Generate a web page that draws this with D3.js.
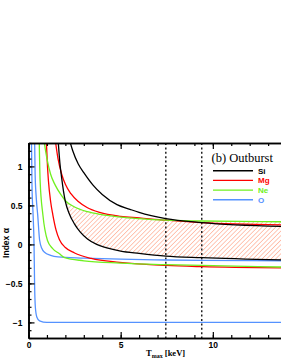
<!DOCTYPE html>
<html lang="en">
<head>
<meta charset="UTF-8">
<title>Outburst</title>
<script src="https://cdn.jsdelivr.net/npm/d3@7"></script>
<style>
  html, body { margin: 0; background: #fff; }
  svg { display: block; }
  .tick text { font: bold 8.5px 'Liberation Sans', Arial, sans-serif; fill: #000; }
</style>
</head>
<body>
<script>
  // canvas
  const width = 281
  const height = 363

  // curve samples: [Tmax keV, alpha]
  const siUpper = [[2.2, 1.36], [2.4, 1.2], [2.7, 1.03], [3.0, 0.92], [3.5, 0.76], [4.0, 0.64], [4.8, 0.51], [5.5, 0.45], [6.0, 0.41], [7.45, 0.33], [9.4, 0.28], [13.8, 0.23]]
  const siLower = [[1.6, 1.36], [1.7, 1.05], [1.8, 0.85], [1.9, 0.68], [2.0, 0.55], [2.2, 0.4], [2.5, 0.26], [2.8, 0.16], [3.2, 0.07], [3.7, 0.0], [4.2, -0.04], [5.0, -0.085], [6.0, -0.115], [7.45, -0.15], [9.4, -0.17], [13.8, -0.2]]
  const mgUpper = [[1.44, 1.36], [1.6, 1.1], [1.8, 0.9], [2.0, 0.77], [2.3, 0.65], [2.7, 0.55], [3.2, 0.47], [3.86, 0.41], [5.0, 0.36], [6.0, 0.34], [7.45, 0.31], [9.4, 0.28], [13.8, 0.25]]
  const mgLower = [[0.96, 1.36], [1.03, 1.0], [1.08, 0.82], [1.2, 0.55], [1.32, 0.38], [1.5, 0.18], [1.68, 0.06], [2.0, -0.04], [2.5, -0.11], [3.4, -0.18], [4.95, -0.23], [7.45, -0.27], [9.4, -0.285], [13.8, -0.3]]
  const neUpper = [[0.82, 1.36], [1.0, 1.1], [1.2, 0.9], [1.45, 0.76], [1.75, 0.64], [2.0, 0.56], [2.5, 0.48], [3.2, 0.42], [3.9, 0.385], [5.0, 0.35], [6.0, 0.33], [7.45, 0.31], [9.4, 0.3], [13.8, 0.29]]
  const neLower = [[0.58, 1.36], [0.63, 0.82], [0.78, 0.38], [1.03, 0.05], [1.3, -0.05], [1.68, -0.12], [1.96, -0.17], [3.0, -0.21], [4.95, -0.24], [7.45, -0.26], [9.4, -0.27], [13.8, -0.29]]
  const oUpper = [[0.33, 1.36], [0.36, 0.9], [0.42, 0.6], [0.5, 0.375], [0.6, 0.06], [0.72, -0.05], [0.87, -0.1], [1.2, -0.14], [1.6, -0.16], [3.0, -0.175], [5.0, -0.19], [7.45, -0.2], [9.4, -0.205], [13.8, -0.21]]
  const oLower = [[0.16, 1.36], [0.19, 0.75], [0.25, 0.375], [0.3, 0.0], [0.33, -0.5], [0.37, -0.8], [0.45, -0.93], [0.6, -0.98], [1.0, -1.0], [13.8, -1.0]]

  // legend
  const elements = ['Si', 'Mg', 'Ne', 'O']
  const colors = ['#000000', '#ff0000', '#70f020', '#5592ff']

  // dotted Tmax markers
  const markers = [7.45, 9.4]

  // tick values
  const xMajor = [0, 5, 10]
  const yMajor = [-1, -0.5, 0, 0.5, 1]

  const plot = { left: 28.5, top: 143, bottom: 338, right: 305 }

  const svg = d3.select('body').append('svg')
    .attr('width', width)
    .attr('height', height)

  const x = d3.scaleLinear().domain([0, 15]).range([plot.left, plot.right])
  const y = d3.scaleLinear().domain([-1.2, 1.3]).range([plot.bottom, plot.top])

  const defs = svg.append('defs')
  defs.append('clipPath').attr('id', 'clip')
    .append('rect')
    .attr('x', plot.left).attr('y', plot.top)
    .attr('width', plot.right - plot.left).attr('height', plot.bottom - plot.top)

  // hatch pattern
  const pat = defs.append('pattern')
    .attr('id', 'hatch')
    .attr('patternUnits', 'userSpaceOnUse')
    .attr('width', 3.2).attr('height', 3.2)
    .attr('patternTransform', 'rotate(45)')
  pat.append('line')
    .attr('x1', 0).attr('y1', 0).attr('x2', 0).attr('y2', 3.2)
    .attr('stroke', '#ff9a7c').attr('stroke-width', 1.1)

  const line = d3.line()
    .x(d => x(d[0]))
    .y(d => y(d[1]))
    .curve(d3.curveMonotoneX)

  const g = svg.append('g').attr('clip-path', 'url(#clip)')

  // hatched region between Ne upper and Si lower
  const hatchTop = neUpper.filter(d => d[0] >= 2.0)
  const hatchBot = siLower.filter(d => d[0] >= 2.0).reverse()
  g.append('path')
    .attr('d', line(hatchTop) + line(hatchBot).replace(/^M/, 'L') + 'Z')
    .attr('fill', 'url(#hatch)')

  // markers
  g.selectAll('.marker')
    .data(markers)
    .enter()
    .append('line')
    .attr('class', 'marker')
    .attr('x1', d => x(d)).attr('x2', d => x(d))
    .attr('y1', plot.top).attr('y2', plot.bottom)
    .attr('stroke', '#000')
    .attr('stroke-width', 1.3)
    .attr('stroke-dasharray', '2,2.4')

  // curves
  const curves = [
    [oUpper, 3], [oLower, 3],
    [mgUpper, 1], [mgLower, 1],
    [neUpper, 2], [neLower, 2],
    [siUpper, 0], [siLower, 0]
  ]
  g.selectAll('.curve')
    .data(curves)
    .enter()
    .append('path')
    .attr('class', 'curve')
    .attr('d', d => line(d[0]))
    .attr('fill', 'none')
    .attr('stroke', d => colors[d[1]])
    .attr('stroke-width', 1.3)

  // axes
  const xMinor = d3.range(0, 16, 1)
  const yMinor = d3.range(-12, 14, 1).map(v => v / 10)

  function styleAxis(sel) {
    sel.select('.domain').attr('stroke-width', 1.6)
    sel.selectAll('.tick line').attr('stroke-width', 1.2)
  }

  svg.append('g')
    .attr('transform', `translate(0, ${plot.bottom})`)
    .call(d3.axisBottom(x).tickValues(xMinor).tickSize(-3).tickSizeOuter(0).tickFormat(''))
    .call(styleAxis)
  svg.append('g')
    .attr('transform', `translate(0, ${plot.bottom})`)
    .call(d3.axisBottom(x).tickValues(xMajor).tickSize(-6).tickSizeOuter(0).tickPadding(4).tickFormat(d3.format('d')))
    .call(styleAxis)

  svg.append('g')
    .attr('transform', `translate(0, ${plot.top})`)
    .call(d3.axisTop(x).tickValues(xMinor).tickSize(-3).tickSizeOuter(0).tickFormat(''))
    .call(styleAxis)
  svg.append('g')
    .attr('transform', `translate(0, ${plot.top})`)
    .call(d3.axisTop(x).tickValues(xMajor).tickSize(-6).tickSizeOuter(0).tickFormat(''))
    .call(styleAxis)

  svg.append('g')
    .attr('transform', `translate(${plot.left}, 0)`)
    .call(d3.axisLeft(y).tickValues(yMinor).tickSize(-3).tickSizeOuter(0).tickFormat(''))
    .call(styleAxis)
  svg.append('g')
    .attr('transform', `translate(${plot.left}, 0)`)
    .call(d3.axisLeft(y).tickValues(yMajor).tickSize(-6).tickSizeOuter(0).tickPadding(6).tickFormat(d3.format('')))
    .call(styleAxis)

  // axis titles
  svg.append('text')
    .attr('transform', 'translate(8.5, 243) rotate(-90)')
    .attr('text-anchor', 'middle')
    .style('font', "bold 8.5px 'Liberation Sans', Arial, sans-serif")
    .text('Index α')

  const xt = svg.append('text')
    .attr('x', 146).attr('y', 356)
    .style('font', "bold 8.5px 'Liberation Serif', 'Times New Roman', serif")
  xt.append('tspan').text('T')
  xt.append('tspan').attr('dy', 2).style('font-size', '6px').text('max')
  xt.append('tspan').attr('dy', -2).text(' [keV]')

  // legend
  svg.append('text')
    .attr('x', 211.5).attr('y', 162)
    .style('font', "12.5px 'Liberation Serif', 'Times New Roman', serif")
    .text('(b) Outburst')

  const leg = svg.selectAll('.leg')
    .data(elements)
    .enter()
    .append('g')
    .attr('class', 'leg')
    .attr('transform', (d, i) => `translate(0, ${170.7 + i * 9.7})`)
  leg.append('line')
    .attr('x1', 213).attr('x2', 253)
    .attr('stroke', (d, i) => colors[i])
    .attr('stroke-width', 1.4)
  leg.append('text')
    .attr('x', 258).attr('y', 3)
    .attr('fill', (d, i) => colors[i])
    .style('font', "bold 8px 'Liberation Sans', Arial, sans-serif")
    .text(d => d)
</script>
</body>
</html>
